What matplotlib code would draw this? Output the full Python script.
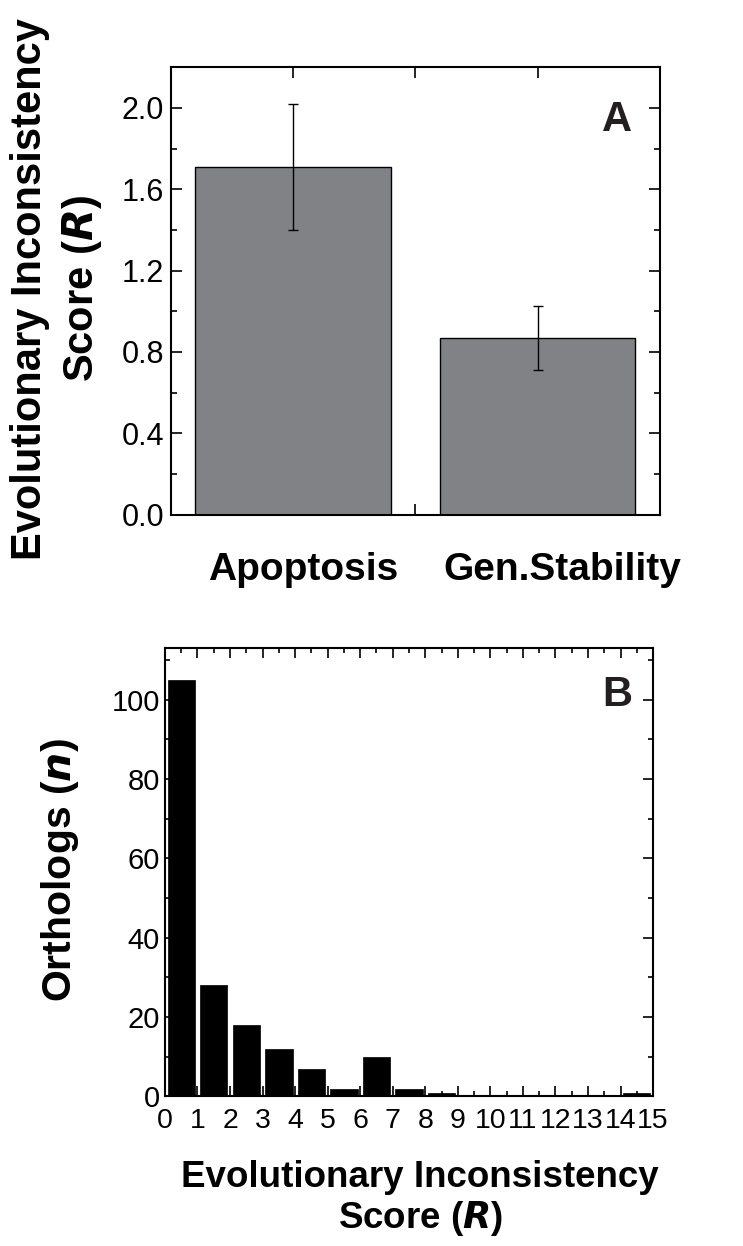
import matplotlib
matplotlib.use("Agg")
import matplotlib.pyplot as plt
import matplotlib.transforms as mtransforms
from matplotlib.ticker import MultipleLocator, FixedLocator
import numpy as np

plt.rcParams['font.family'] = ['Liberation Sans', 'DejaVu Sans']

# Panel A data
categories = ["Apoptosis", "Gen.Stability"]
mean_scores = [1.71, 0.87]
score_errors = [0.31, 0.157]

# Panel B data (histogram of R, bins of width 1 from 0 to 15)
bin_starts = list(range(15))
ortholog_counts = [105, 28, 18, 12, 7, 2, 10, 2, 1, 0, 0, 0, 0, 0, 1]
b_xtick_labels = [str(i) for i in range(16)]

fig = plt.figure(figsize=(7.43, 12.46), dpi=100)

def style_ticks(ax):
    ax.tick_params(which='both', direction='in', top=True, right=True,
                   width=1.2, colors='black')
    ax.tick_params(which='major', length=8)
    ax.tick_params(which='minor', length=4)
    for s in ax.spines.values():
        s.set_linewidth(1.5)

# ---------------- Panel A ----------------
axA = fig.add_axes([0.230, 0.587, 0.658, 0.359])
xpos = np.arange(1, len(categories) + 1)
axA.bar(xpos, mean_scores, width=0.8, color='#818285', edgecolor='black',
        linewidth=1.0, zorder=2)
axA.errorbar(xpos, mean_scores, yerr=score_errors, fmt='none', ecolor='black',
             elinewidth=1.0, capsize=3.5, capthick=1.0, zorder=3)
axA.set_xlim(0.5, 2.5)
axA.set_ylim(0, 2.2)
axA.yaxis.set_major_locator(FixedLocator([0.0, 0.4, 0.8, 1.2, 1.6, 2.0]))
axA.yaxis.set_minor_locator(MultipleLocator(0.2))
axA.set_yticklabels(['0.0', '0.4', '0.8', '1.2', '1.6', '2.0'], fontsize=22)
axA.set_xticks([1, 1.5, 2])
axA.set_xticklabels([categories[0], '', categories[1]], fontsize=28,
                    fontweight='bold')
style_ticks(axA)
axA.tick_params(axis='x', which='major', pad=27)
axA.tick_params(axis='y', which='major', pad=5)
# the reference labels sit slightly right of the bar centres
shifts = [10, 0, 25]
for lab, dx in zip(axA.get_xticklabels(), shifts):
    lab.set_transform(lab.get_transform() +
                      mtransforms.ScaledTranslation(dx / 100, 0, fig.dpi_scale_trans))
axA.set_ylabel("Evolutionary Inconsistency\nScore ($\\bfit{R}$)", fontsize=30,
               fontweight='bold', linespacing=1.3)
axA.yaxis.set_label_coords(-0.137, 0.505)
axA.text(0.912, 0.882, "A", transform=axA.transAxes, fontsize=30,
         fontweight='bold', ha='center', va='center', color='#231f20')

# ---------------- Panel B ----------------
axB = fig.add_axes([0.222, 0.120, 0.657, 0.360])
centers = np.array(bin_starts) + 0.5
axB.bar(centers, ortholog_counts, width=0.84, color='black',
        edgecolor='black', linewidth=0.5, zorder=2)
axB.set_xlim(0, 15)
axB.set_ylim(0, 113)
axB.xaxis.set_major_locator(MultipleLocator(1))
axB.xaxis.set_minor_locator(MultipleLocator(0.5))
axB.yaxis.set_major_locator(MultipleLocator(20))
axB.yaxis.set_minor_locator(MultipleLocator(10))
axB.set_xticks(range(16))
axB.set_xticklabels(b_xtick_labels, fontsize=20.5)
axB.tick_params(axis='y', labelsize=21)
style_ticks(axB)
axB.tick_params(which='major', length=7)
axB.tick_params(which='minor', length=3.5)
axB.tick_params(axis='x', which='major', pad=8)
axB.tick_params(axis='y', which='major', pad=3.5)
axB.set_ylabel("Orthologs ($\\bfit{n}$)", fontsize=29.5, fontweight='bold')
axB.yaxis.set_label_coords(-0.172, 0.504)
axB.set_xlabel("Evolutionary Inconsistency\nScore ($\\bfit{R}$)", fontsize=26.5,
               fontweight='bold', linespacing=1.12)
axB.xaxis.set_label_coords(0.523, -0.142)
axB.text(0.926, 0.895, "B", transform=axB.transAxes, fontsize=30,
         fontweight='bold', ha='center', va='center', color='#231f20')

fig.savefig("out.png", dpi=100)
